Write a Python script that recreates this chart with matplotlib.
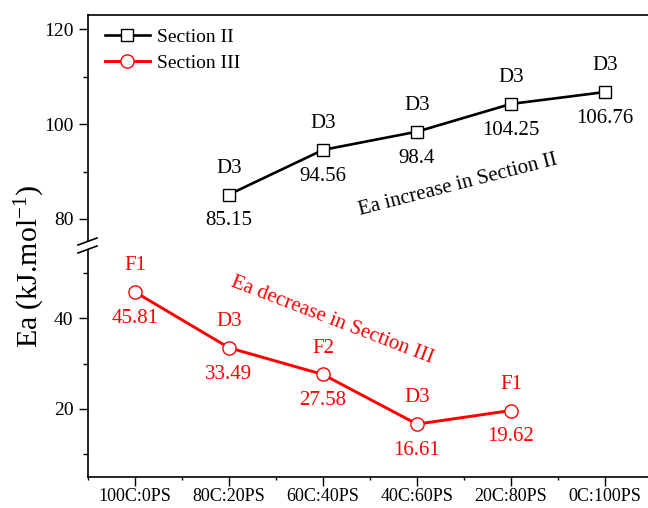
import matplotlib
matplotlib.use("Agg")
import matplotlib.pyplot as plt
from matplotlib.lines import Line2D
from matplotlib.ticker import FixedLocator

plt.rcParams['font.family'] = ['Liberation Serif', 'DejaVu Serif']
plt.rcParams['mathtext.fontset'] = 'custom'
plt.rcParams['mathtext.rm'] = 'Liberation Serif'
plt.rcParams['mathtext.it'] = 'Liberation Serif:italic'

categories = ["100C:0PS", "80C:20PS", "60C:40PS", "40C:60PS", "20C:80PS", "0C:100PS"]
sec2_x = [1, 2, 3, 4, 5]
sec2_y = [85.15, 94.56, 98.4, 104.25, 106.76]
sec2_lab = ["D3", "D3", "D3", "D3", "D3"]
sec3_x = [0, 1, 2, 3, 4]
sec3_y = [45.81, 33.49, 27.58, 16.61, 19.62]
sec3_lab = ["F1", "D3", "F2", "D3", "F1"]

W, H = 648, 508
fig = plt.figure(figsize=(W/100, H/100), dpi=100)

left = 88 / W
width = (652 - 88) / W
ax_top = fig.add_axes([left, (H - 241) / H, width, 226 / H])
ax_bot = fig.add_axes([left, (H - 477) / H, width, 227 / H])

red = '#FF0000'
fs_ann = 15

ax_top.plot(sec2_x, sec2_y, color='black', lw=1.9, marker='s', ms=8.5,
            mfc='white', mec='black', mew=1.0, label='Section II', zorder=3)
ax_bot.plot(sec3_x, sec3_y, color=red, lw=2.1, marker='o', ms=9.5,
            mfc='white', mec=red, mew=1.0, label='Section III', zorder=3)

for x, y, lab in zip(sec2_x, sec2_y, sec2_lab):
    ax_top.annotate(lab, (x, y), xytext=(0, 19), textcoords='offset points',
                    ha='center', va='center', fontsize=fs_ann, color='black')
    ax_top.annotate(f"{y:g}", (x, y), xytext=(0, -19), textcoords='offset points',
                    ha='center', va='center', fontsize=fs_ann, color='black')
for x, y, lab in zip(sec3_x, sec3_y, sec3_lab):
    ax_bot.annotate(lab, (x, y), xytext=(0, 19), textcoords='offset points',
                    ha='center', va='center', fontsize=fs_ann, color=red)
    ax_bot.annotate(f"{y:g}", (x, y), xytext=(0, -19), textcoords='offset points',
                    ha='center', va='center', fontsize=fs_ann, color=red)

ax_top.text(3.44, 87.2, "Ea increase in Section II", rotation=14.4,
            rotation_mode='anchor', ha='center', va='center', fontsize=fs_ann)
ax_bot.text(2.1, 39.6, "Ea decrease in Section III", rotation=-21,
            rotation_mode='anchor', ha='center', va='center', fontsize=fs_ann, color=red)

for ax in (ax_top, ax_bot):
    ax.set_xlim(-0.5, 5.5)
    ax.spines['right'].set_visible(False)
    ax.tick_params(axis='both', which='major', direction='out', length=6.5,
                   width=1.0, pad=4)
    ax.tick_params(axis='y', which='major', labelsize=14)
    ax.tick_params(axis='both', which='minor', direction='out', length=3.5, width=1.0)
    for s in ax.spines.values():
        s.set_linewidth(1.2)

ax_top.set_ylim(75.35, 123.0)
ax_top.set_yticks([80, 100, 120])
ax_top.yaxis.set_minor_locator(FixedLocator([90, 110]))
ax_top.spines['bottom'].set_visible(False)
ax_top.tick_params(axis='x', which='both', bottom=False, labelbottom=False)

ax_bot.set_ylim(4.92, 55.1)
ax_bot.set_yticks([20, 40])
ax_bot.yaxis.set_minor_locator(FixedLocator([10, 30, 50]))
ax_bot.spines['top'].set_visible(False)
ax_bot.set_xticks(range(len(categories)))
ax_bot.set_xticklabels(categories)
ax_bot.xaxis.set_minor_locator(FixedLocator([i + 0.5 for i in range(-1, 6)]))
ax_bot.tick_params(axis='x', which='major', pad=1.5, labelsize=13)
ax_bot.tick_params(axis='x', which='minor', length=2.5)

# axis break marks
for yb in (245, 253):
    fig.add_artist(Line2D([78 / W, 97 / W], [(H - yb) / H, (H - yb + 7) / H],
                          color='black', lw=1.2, transform=fig.transFigure))

fig.text(30 / W, (H - 266) / H, "Ea (kJ.mol$^{\\mathregular{-1}}$)", rotation=90,
         ha='center', va='center', fontsize=21.5)

h1, l1 = ax_top.get_legend_handles_labels()
h2, l2 = ax_bot.get_legend_handles_labels()
ax_top.legend(h1 + h2, l1 + l2, loc='upper left', bbox_to_anchor=(0.03, 0.94),
              frameon=False, fontsize=14, handlelength=2.3, handletextpad=0.4,
              labelspacing=0.4, borderpad=0, borderaxespad=0)

fig.savefig("out.png", dpi=100)
